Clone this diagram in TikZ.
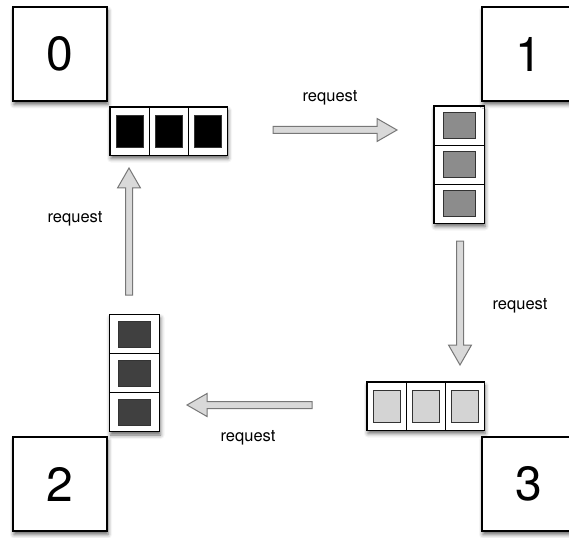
\documentclass[tikz,border=0pt]{standalone}
\usepackage{fontspec}
\setmainfont{TeX Gyre Heros}
\usetikzlibrary{calc,shadows.blur}

% fat hollow arrow drawn between two named points
\newcommand\fatarrow[3]{%
  \coordinate (#3-hb) at ($(#2)!20pt!(#1)$);
  \draw[flow]
    ($(#1)!3.5pt!90:(#2)$) -- ($(#3-hb)!3.5pt!-90:(#1)$) --
    ($(#3-hb)!11.5pt!-90:(#1)$) -- (#2) --
    ($(#3-hb)!11.5pt!90:(#1)$) -- ($(#3-hb)!3.5pt!90:(#1)$) --
    ($(#1)!3.5pt!-90:(#2)$) -- cycle;}

% three-slot buffer laid out horizontally: name, centre, slot colour
\newcommand\hbuffer[3]{%
  \node[bufbox, minimum width=117pt, minimum height=48pt] (#1) at #2 {};
  \foreach \k/\d in {a/-39, b/0, c/39} {
    \node[cell, minimum width=39pt, minimum height=48pt] (#1-\k) at ([xshift=\d pt]#1.center) {};
    \node[slot, fill=#3, minimum width=27pt, minimum height=32pt] at (#1-\k) {};
  }}

% three-slot buffer laid out vertically: name, centre, slot colour
\newcommand\vbuffer[3]{%
  \node[bufbox, minimum width=50pt, minimum height=117pt] (#1) at #2 {};
  \foreach \k/\d in {a/39, b/0, c/-39} {
    \node[cell, minimum width=50pt, minimum height=39pt] (#1-\k) at ([yshift=\d pt]#1.center) {};
    \node[slot, fill=#3, minimum width=32pt, minimum height=26pt] at (#1-\k) {};
  }}

\definecolor{arrowfill}{HTML}{D9D9D9}
\definecolor{arrowedge}{HTML}{777777}
\definecolor{slotblack}{HTML}{000000}
\definecolor{slotmid}{HTML}{8C8C8C}
\definecolor{slotdark}{HTML}{404040}
\definecolor{slotlight}{HTML}{D4D4D4}

\begin{document}
\begin{tikzpicture}[x=1pt, y=-1pt,
  softshadow/.style={blur shadow={shadow xshift=1pt, shadow yshift=-3.5pt,
      shadow blur radius=4pt, shadow opacity=60}},
  proc/.style={draw=black, line width=1.1pt, fill=white, minimum size=94pt,
      inner sep=0pt, font=\fontsize{48}{48}\selectfont, softshadow},
  bufbox/.style={draw=black, line width=1.1pt, fill=white, inner sep=0pt, softshadow},
  cell/.style={draw=black, line width=0.8pt, fill=white, inner sep=0pt},
  slot/.style={draw=black!80, line width=0.9pt, inner sep=0pt},
  flow/.style={draw=arrowedge, fill=arrowfill, line width=1pt, line join=miter},
  lbl/.style={font=\fontsize{16.5}{16.5}\selectfont, inner sep=0pt}]
\useasboundingbox (0,0) rectangle (569,537);

% arrow end points
\coordinate (t0) at (273,130);
\coordinate (t1) at (397,130);
\coordinate (r0) at (460,241);
\coordinate (r1) at (460,365);
\coordinate (b0) at (312,405);
\coordinate (b1) at (187,405);
\coordinate (l0) at (129,295);
\coordinate (l1) at (129,168);

\fatarrow{t0}{t1}{top}
\fatarrow{r0}{r1}{right}
\fatarrow{b0}{b1}{bottom}
\fatarrow{l0}{l1}{left}

\node[lbl] (lt) at (330,98) {request};
\node[lbl] (lr) at (520,306) {request};
\node[lbl] (lb) at (248,438) {request};
\node[lbl] (ll) at (75,219) {request};

% buffers
\hbuffer{q0}{(168.5,131)}{slotblack}
\vbuffer{q1}{(459,164.5)}{slotmid}
\vbuffer{q2}{(134.5,373)}{slotdark}
\hbuffer{q3}{(425.5,406)}{slotlight}

% processes
\node[proc] (p0) at (60,54) {0};
\node[proc] (p1) at (529,54) {1};
\node[proc] (p2) at (60,484) {2};
\node[proc] (p3) at (529,484) {3};
\end{tikzpicture}
\end{document}
